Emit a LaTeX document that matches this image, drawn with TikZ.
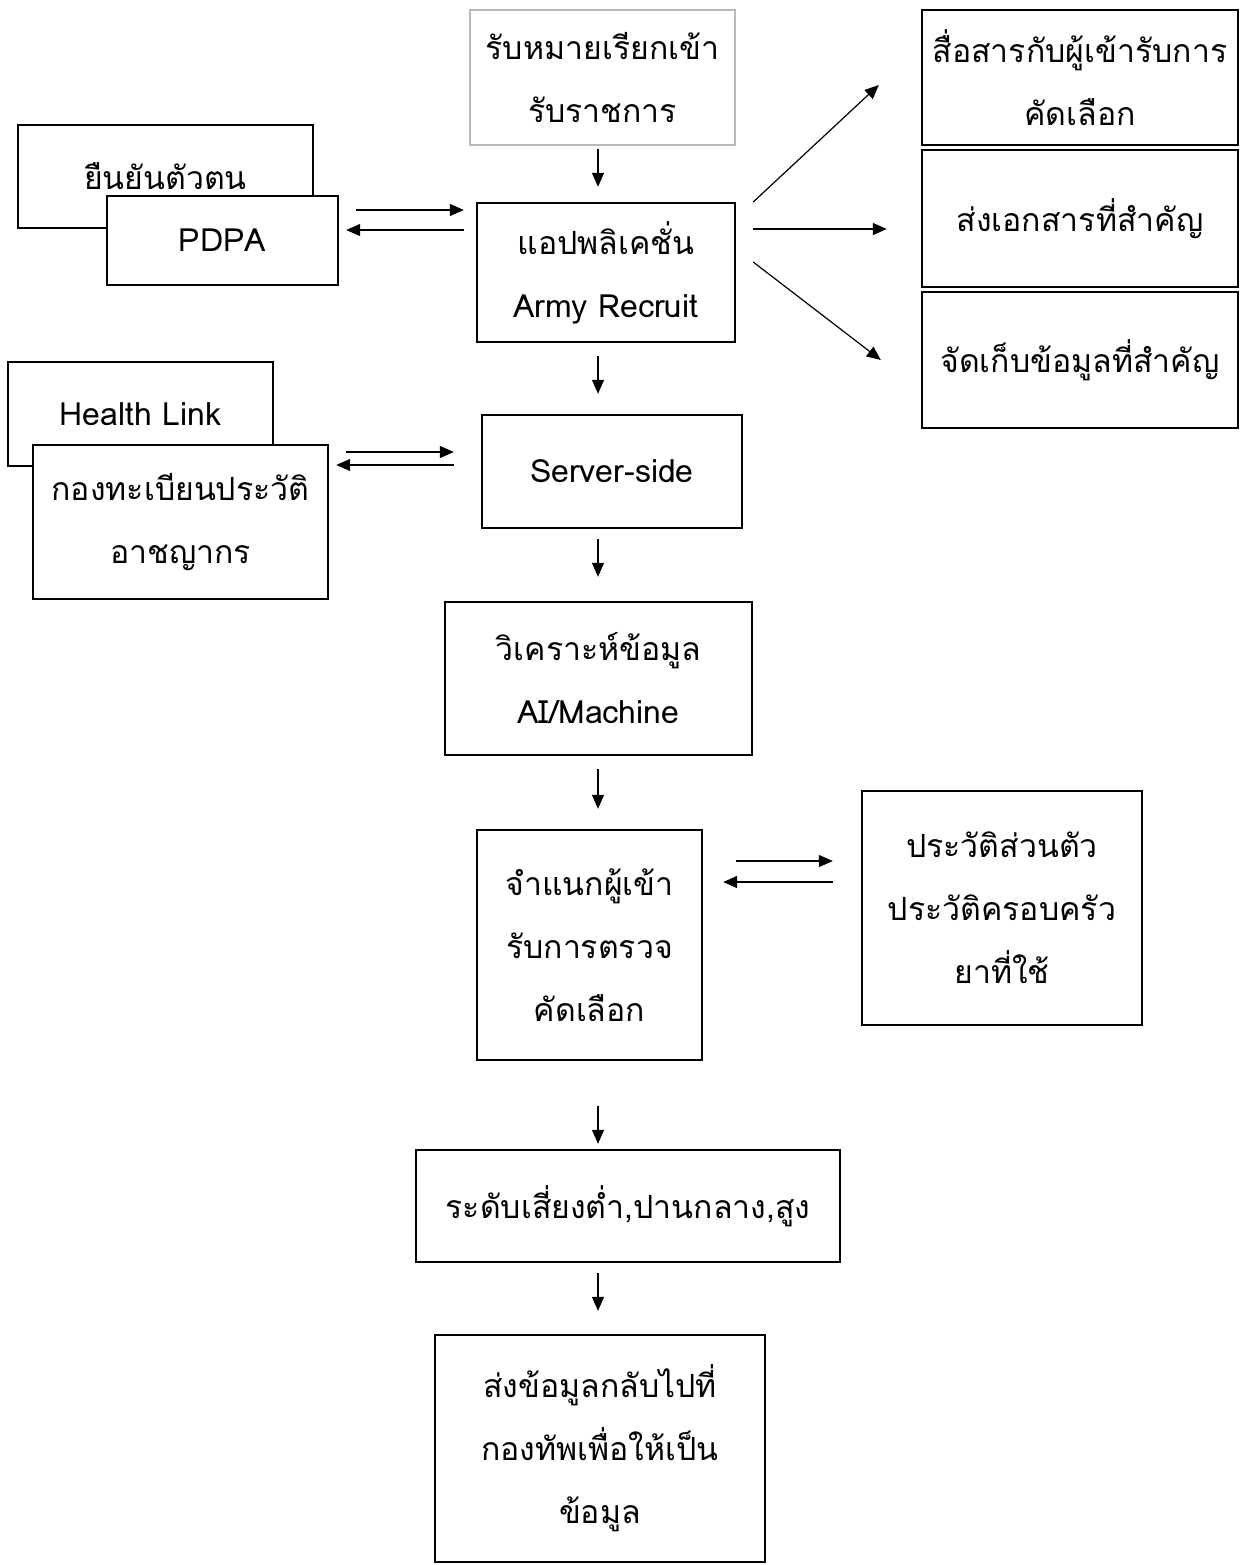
\documentclass[tikz,border=0pt]{standalone}
\usepackage{fontspec}
\usepackage{tikz}
\usetikzlibrary{positioning,arrows.meta,calc}
\newfontfamily\thaifont[Script=Thai]{Loma}

\begin{document}
\begin{tikzpicture}[x=0.5pt, y=-0.5pt, >={Triangle[length=7pt,width=6pt]},
  box/.style={draw, line width=1.2pt, fill=white, align=center, inner sep=0pt,
    font=\thaifont\fontsize{16}{31.5}\selectfont},
  arr/.style={->, line width=0.6pt}]

\fill[white] (0,0) rectangle (1247,1565);
\useasboundingbox (0,0) rectangle (1247,1565);
\coordinate (spine) at (598,0);

% ---------------- Top: app and its inputs ----------------
\node[box, draw=gray!55, minimum width=132.5pt, minimum height=67.5pt] (recv) at (602.5,77.5) {รับหมายเรียกเข้า\\รับราชการ};
\node[box, minimum width=129pt, minimum height=69.5pt] (app) at (606,272.5) {แอปพลิเคชั่น\\Army Recruit};

\node[box, minimum width=147.5pt, minimum height=51.5pt] (ident) at (165.5,176.5) {ยืนยันตัวตน};
\node[box, minimum width=115.5pt, minimum height=44.5pt] (pdpa) at (222.5,240.5) {PDPA};

\node[box, minimum width=158pt, minimum height=67.5pt] (comm) at (1080,77.5) {สื่อสารกับผู้เข้ารับการ\\คัดเลือก};
\node[box, minimum width=158pt, minimum height=68.5pt] (docs) at (1080,218.5) {ส่งเอกสารที่สำคัญ};
\node[box, minimum width=158pt, minimum height=68pt] (store) at (1080,360) {จัดเก็บข้อมูลที่สำคัญ};

\draw[arr, shorten <=1.5pt, shorten >=7.5pt] (recv.south -| spine) -- (app.north -| spine);
\draw[arr, shorten >=6pt] ([shift={(17,-30.5)}]pdpa.east) coordinate (pa) -- (pa -| app.west);
\draw[arr, shorten >=3.5pt] ([shift={(-12,-42.5)}]app.west) coordinate (ap) -- (ap -| pdpa.east);

\draw[arr] ([shift={(17,-70.5)}]app.east) -- ([shift={(-42,7.5)}]comm.west);
\draw[arr] ([shift={(17,-43.5)}]app.east) -- ([shift={(-34,10.5)}]docs.west);
\draw[arr] ([shift={(17,-10.5)}]app.east) -- ([shift={(-40,0)}]store.west);

% ---------------- Middle: server and analysis ----------------
\node[box, minimum width=130pt, minimum height=56.5pt] (server) at (612,471.5) {Server-side};
\node[box, minimum width=132.5pt, minimum height=52pt] (health) at (140.5,414) {Health Link};
\node[box, minimum width=147.5pt, minimum height=77pt] (reg) at (180.5,522) {กองทะเบียนประวัติ\\อาชญากร};
\node[box, minimum width=153.5pt, minimum height=76.5pt] (ana) at (598.5,678.5) {วิเคราะห์ข้อมูล\\AI/Machine};

\draw[arr, shorten <=6.5pt, shorten >=10pt] (app.south -| spine) -- (server.north -| spine);
\draw[arr, shorten >=13.5pt] ([shift={(17,-70)}]reg.east) coordinate (rs) -- (rs -| server.west);
\draw[arr, shorten >=3.5pt] ([shift={(-27,-6.5)}]server.west) coordinate (sr) -- (sr -| reg.east);
\draw[arr, shorten <=5pt, shorten >=12pt] (server.south -| spine) -- (ana.north -| spine);

% ---------------- Bottom: classification and result ----------------
\node[box, minimum width=112.5pt, minimum height=115pt] (cls) at (589.5,945) {จำแนกผู้เข้า\\รับการตรวจ\\คัดเลือก};
\node[box, minimum width=140pt, minimum height=117pt] (hist) at (1002,908) {ประวัติส่วนตัว\\ประวัติครอบครัว\\ยาที่ใช้};
\node[box, minimum width=212pt, minimum height=56pt] (risk) at (628,1206) {ระดับเสี่ยงต่ำ,ปานกลาง,สูง};
\node[box, minimum width=165pt, minimum height=113.5pt] (send) at (600,1448.5) {ส่งข้อมูลกลับไปที่\\กองทัพเพื่อให้เป็น\\ข้อมูล};

\draw[arr, shorten <=6.5pt, shorten >=10pt] (ana.south -| spine) -- (cls.north -| spine);
\draw[arr, shorten >=14pt] ([shift={(33,-84)}]cls.east) coordinate (ch) -- (ch -| hist.west);
\draw[arr, shorten >=10pt] ([shift={(-28,-26)}]hist.west) coordinate (hc) -- (hc -| cls.east);
\draw[arr, shorten <=22.5pt, shorten >=2.5pt] (cls.south -| spine) -- (risk.north -| spine);
\draw[arr, shorten <=5pt, shorten >=11.5pt] (risk.south -| spine) -- (send.north -| spine);

\end{tikzpicture}
\end{document}
